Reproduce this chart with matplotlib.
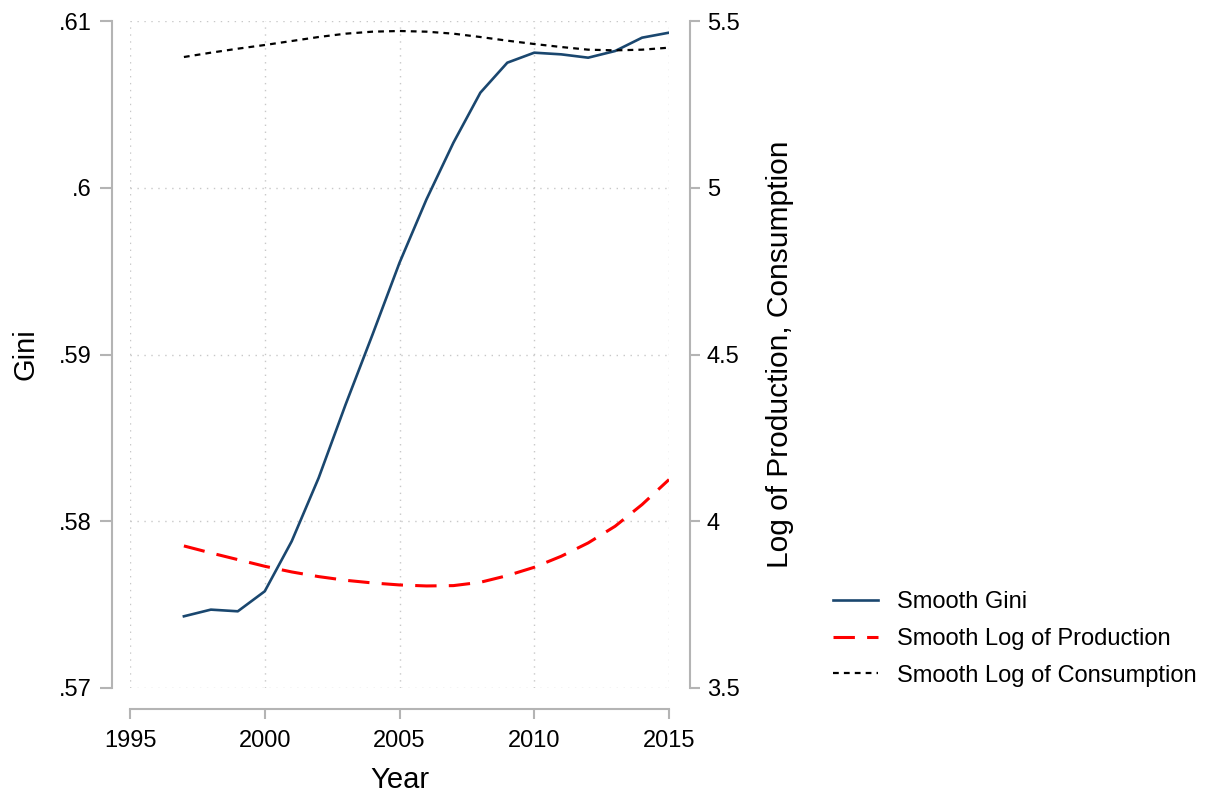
import numpy as np
import matplotlib
matplotlib.use("Agg")
import matplotlib.pyplot as plt

plt.rcParams['font.family'] = ['Liberation Sans', 'DejaVu Sans']

years = list(range(1997, 2016))
gini = [0.5743, 0.5747, 0.5746, 0.5758, 0.5788, 0.5826, 0.5870, 0.5912, 0.5955,
        0.5993, 0.6027, 0.6057, 0.6075, 0.6081, 0.6080, 0.6078, 0.6082, 0.6090, 0.6093]
log_prod = [3.926, 3.905, 3.885, 3.865, 3.848, 3.834, 3.823, 3.815, 3.809, 3.806,
            3.807, 3.817, 3.837, 3.862, 3.895, 3.935, 3.985, 4.050, 4.125]
log_cons = [5.392, 5.405, 5.417, 5.428, 5.440, 5.452, 5.462, 5.468, 5.470, 5.468,
            5.462, 5.452, 5.441, 5.431, 5.422, 5.414, 5.412, 5.414, 5.420]

xticks = [1995, 2000, 2005, 2010, 2015]
gini_ticks = [0.57, 0.58, 0.59, 0.60, 0.61]
gini_ticklabels = ['.57', '.58', '.59', '.6', '.61']
log_ticks = [3.5, 4, 4.5, 5, 5.5]
log_ticklabels = ['3.5', '4', '4.5', '5', '5.5']

spine_col = '#b4b4b4'
grid_col = '#c8c8c8'
px = 72 / 100.0

fig = plt.figure(figsize=(12.16, 7.98), dpi=100)
ax1 = fig.add_axes([130 / 1216, 1 - 688 / 798, 539 / 1216, 667 / 798])
ax2 = ax1.twinx()

l1, = ax1.plot(years, gini, color='#1a476f', lw=1.9, label='Smooth Gini')
l2, = ax2.plot(years, log_prod, color='#ff0000', lw=2.2, linestyle=(0, (7, 4)),
               label='Smooth Log of Production')
l3, = ax2.plot(years, log_cons, color='black', lw=1.6, linestyle=(0, (2.6, 2.3)),
               label='Smooth Log of Consumption')

ax1.set_xlim(1995, 2015)
ax1.set_ylim(0.57, 0.61)
ax2.set_ylim(3.5, 5.5)

ax1.set_xticks(xticks)
ax1.set_yticks(gini_ticks)
ax1.set_yticklabels(gini_ticklabels)
ax2.set_yticks(log_ticks)
ax2.set_yticklabels(log_ticklabels)

ax1.grid(True, linestyle=(0, (1, 4)), color=grid_col, lw=1.0)
ax1.set_axisbelow(True)

for ax in (ax1, ax2):
    ax.spines['top'].set_visible(False)
    for s in ax.spines.values():
        s.set_color(spine_col)
        s.set_linewidth(1.5)
ax1.spines['right'].set_visible(False)
ax2.spines['left'].set_visible(False)
ax2.spines['bottom'].set_visible(False)
ax1.spines['left'].set_position(('outward', 18 * px))
ax1.spines['bottom'].set_position(('outward', 21 * px))
ax2.spines['right'].set_position(('outward', 21 * px))

ax1.tick_params(axis='x', colors=spine_col, labelcolor='black', labelsize=17,
                length=7, width=1.5, pad=8)
ax1.tick_params(axis='y', colors=spine_col, labelcolor='black', labelsize=17,
                length=9, width=1.5, pad=5.5)
ax2.tick_params(axis='y', colors=spine_col, labelcolor='black', labelsize=17,
                length=7, width=1.5, pad=5)

ax1.set_xlabel('Year', fontsize=21, labelpad=10)
ax1.set_ylabel('Gini', fontsize=21, labelpad=14)
ax2.set_ylabel('Log of Production, Consumption', fontsize=21.5, labelpad=19)

fig.legend(handles=[l1, l2, l3], loc='center left',
           bbox_to_anchor=(833 / 1216, 1 - 639 / 798), frameon=False,
           fontsize=17, handlelength=1.9, handletextpad=0.8, labelspacing=0.62,
           borderpad=0, borderaxespad=0)

fig.savefig('out.png', dpi=100)
